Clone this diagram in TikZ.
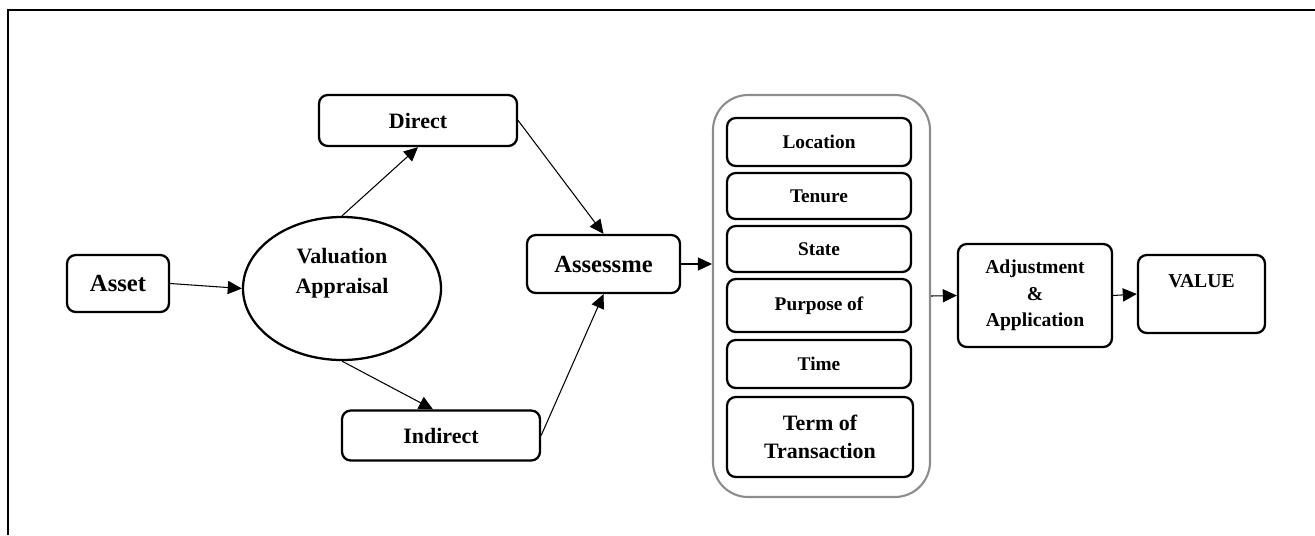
\documentclass[tikz,border=0pt]{standalone}
\usepackage{fontspec}
\setmainfont{Liberation Serif}
\usetikzlibrary{arrows.meta,shapes.geometric}
\definecolor{rim}{RGB}{140,140,140}
\newlength{\px}
\setlength{\px}{0.02cm}
\newcommand{\fsz}[2]{\bfseries\fontsize{#1}{#2}\selectfont}
\tikzset{
  box/.style={draw, line width=1.3pt, rounded corners=5pt, align=center, inner sep=0pt, font=\fsz{12.5}{16}},
  factor/.style={box, minimum width=184\px, font=\fsz{11}{14}},
  link/.style={line width=0.6pt, -{Triangle[length=8pt,width=7.5pt]}},
}
\begin{document}
\begin{tikzpicture}[x=0.02cm, y=-0.02cm]
\useasboundingbox (0,0) rectangle (1315,535);
\draw[line width=1.2pt] (8,535)--(8,10)--(1315,10);
% left part
\node[box, minimum width=102\px, minimum height=57\px, font=\fsz{14}{17}] (asset) at (118,283.5) {Asset};
\node[draw, ellipse, line width=1.3pt, minimum width=198\px, minimum height=143\px, inner sep=0pt,
  label={[font=\fsz{12.5}{17}, align=center, yshift=15\px]center:{Valuation\\Appraisal}}] (val) at (342,288.5) {};
\node[box, minimum width=198\px, minimum height=51\px] (direct) at (418,120.5) {Direct};
\node[box, minimum width=198\px, minimum height=50\px] (indirect) at (441,435.5) {Indirect};
\node[box, minimum width=153\px, minimum height=58\px, font=\fsz{14}{17}] (assess) at (603.5,264) {Assessme};
% factors
\node[draw=rim, line width=1.2pt, rounded corners=20pt, minimum width=217\px, minimum height=402\px, inner sep=0pt] (factors) at (821.5,296) {};
\foreach \name/\y/\h/\txt in {loc/142/48/Location, ten/196/46/Tenure, sta/249/46/State, pur/305.5/53/Purpose of, tim/364/48/Time}
  \node[factor, minimum height=\h\px] (\name) at (819,\y) {\txt};
\node[box, minimum width=186\px, minimum height=80\px] (term) at (820,437) {Term of\\Transaction};
% right part
\node[box, minimum width=154\px, minimum height=103\px, font=\fsz{11.2}{15}] (adjust) at (1035,295.5) {Adjustment\\\&\\Application};
\node[box, minimum width=127\px, minimum height=78\px,
  label={[font=\fsz{11.2}{14}, yshift=13\px]center:VALUE}] (value) at (1201.5,294) {};
% arrows
\draw[link] (asset.east) -- (val.west);
\draw[link] (val.north) -- (direct.south);
\draw[link] (val.south) -- ([xshift=-8\px]indirect.north);
\draw[link] (direct.east) -- (assess.north);
\draw[link] (indirect.east) -- (assess.south);
\draw[link] (assess.east) -- (assess.east -| factors.west);
\draw[link] (factors.east) -- (adjust.west);
\draw[link] (adjust.east) -- (value.west);
\end{tikzpicture}
\end{document}
